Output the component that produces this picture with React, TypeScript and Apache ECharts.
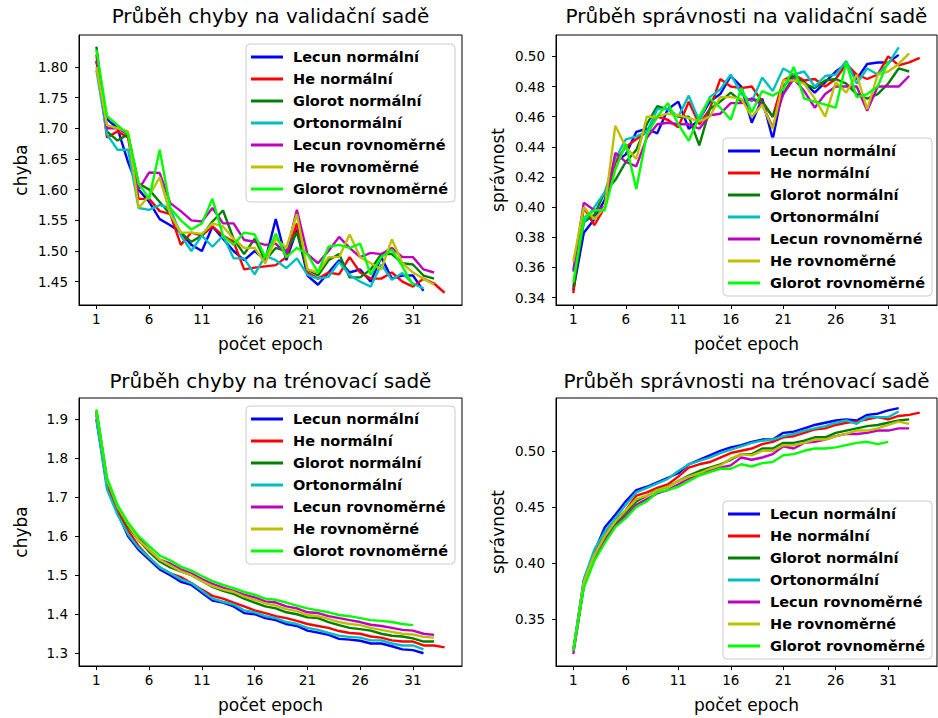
import React, { useEffect, useRef } from "react";
import * as echarts from "echarts";

// ---------- labels ----------
const SERIES_NAMES = [
  "Lecun normální",
  "He normální",
  "Glorot normální",
  "Ortonormální",
  "Lecun rovnoměrné",
  "He rovnoměrné",
  "Glorot rovnoměrné",
];
const EPOCH_TICKS = [1, 6, 11, 16, 21, 26, 31];
const VAL_LOSS_TICKS = [1.45, 1.5, 1.55, 1.6, 1.65, 1.7, 1.75, 1.8];
const VAL_ACC_TICKS = [0.34, 0.36, 0.38, 0.4, 0.42, 0.44, 0.46, 0.48, 0.5];
const TRAIN_LOSS_TICKS = [1.3, 1.4, 1.5, 1.6, 1.7, 1.8, 1.9];
const TRAIN_ACC_TICKS = [0.35, 0.4, 0.45, 0.5];

// ---------- validation loss ----------
const VAL_LOSS_LECUN_N = [1.81, 1.715, 1.7, 1.645, 1.6, 1.58, 1.552, 1.542, 1.53, 1.51, 1.5, 1.54, 1.52, 1.5, 1.485, 1.5, 1.485, 1.552, 1.485, 1.535, 1.46, 1.445, 1.465, 1.485, 1.465, 1.47, 1.45, 1.49, 1.455, 1.46, 1.46, 1.435];
const VAL_LOSS_HE_N = [1.82, 1.685, 1.695, 1.685, 1.585, 1.585, 1.565, 1.56, 1.51, 1.53, 1.525, 1.54, 1.525, 1.515, 1.47, 1.473, 1.475, 1.477, 1.49, 1.545, 1.465, 1.455, 1.465, 1.462, 1.49, 1.465, 1.455, 1.455, 1.465, 1.45, 1.442, 1.455, 1.447, 1.432];
const VAL_LOSS_GLOROT_N = [1.833, 1.695, 1.68, 1.69, 1.61, 1.6, 1.58, 1.56, 1.53, 1.515, 1.525, 1.548, 1.566, 1.52, 1.495, 1.52, 1.485, 1.505, 1.5, 1.53, 1.47, 1.46, 1.485, 1.495, 1.457, 1.457, 1.47, 1.495, 1.495, 1.48, 1.478, 1.46, 1.455];
const VAL_LOSS_ORTO = [1.795, 1.69, 1.665, 1.665, 1.57, 1.567, 1.575, 1.57, 1.525, 1.5, 1.525, 1.507, 1.525, 1.488, 1.488, 1.462, 1.492, 1.485, 1.472, 1.488, 1.461, 1.455, 1.458, 1.482, 1.461, 1.45, 1.442, 1.478, 1.453, 1.464, 1.447, 1.439];
const VAL_LOSS_LECUN_U = [1.81, 1.7, 1.7, 1.69, 1.6, 1.628, 1.627, 1.578, 1.565, 1.55, 1.548, 1.57, 1.545, 1.545, 1.518, 1.515, 1.51, 1.512, 1.495, 1.567, 1.495, 1.48, 1.5, 1.523, 1.505, 1.49, 1.497, 1.495, 1.505, 1.49, 1.49, 1.47, 1.465];
const VAL_LOSS_HE_U = [1.8, 1.705, 1.7, 1.695, 1.57, 1.59, 1.62, 1.56, 1.53, 1.53, 1.528, 1.545, 1.54, 1.52, 1.505, 1.505, 1.48, 1.52, 1.505, 1.56, 1.47, 1.465, 1.49, 1.49, 1.527, 1.49, 1.48, 1.47, 1.519, 1.48, 1.465, 1.455, 1.445];
const VAL_LOSS_GLOROT_U = [1.828, 1.72, 1.705, 1.69, 1.61, 1.585, 1.665, 1.57, 1.55, 1.535, 1.545, 1.585, 1.525, 1.51, 1.53, 1.527, 1.49, 1.528, 1.49, 1.505, 1.495, 1.465, 1.507, 1.51, 1.505, 1.512, 1.461, 1.49, 1.502, 1.475, 1.444];

// ---------- validation accuracy ----------
const VAL_ACC_LECUN_N = [0.345, 0.383, 0.392, 0.405, 0.43, 0.435, 0.45, 0.452, 0.449, 0.465, 0.47, 0.452, 0.458, 0.47, 0.475, 0.487, 0.48, 0.456, 0.472, 0.445, 0.48, 0.488, 0.483, 0.476, 0.483, 0.49, 0.495, 0.485, 0.495, 0.496, 0.496, 0.501];
const VAL_ACC_HE_N = [0.343, 0.4, 0.388, 0.4, 0.43, 0.44, 0.445, 0.45, 0.46, 0.458, 0.453, 0.47, 0.455, 0.465, 0.485, 0.48, 0.479, 0.48, 0.47, 0.46, 0.484, 0.488, 0.484, 0.485, 0.48, 0.485, 0.495, 0.488, 0.485, 0.488, 0.5, 0.494, 0.496, 0.499];
const VAL_ACC_GLOROT_N = [0.347, 0.39, 0.395, 0.41, 0.418, 0.43, 0.438, 0.455, 0.467, 0.465, 0.46, 0.46, 0.441, 0.465, 0.47, 0.476, 0.47, 0.472, 0.47, 0.46, 0.475, 0.487, 0.482, 0.479, 0.484, 0.485, 0.482, 0.475, 0.472, 0.475, 0.482, 0.492, 0.49];
const VAL_ACC_ORTO = [0.357, 0.39, 0.4, 0.41, 0.432, 0.445, 0.447, 0.45, 0.465, 0.465, 0.46, 0.474, 0.457, 0.473, 0.478, 0.488, 0.475, 0.47, 0.486, 0.477, 0.492, 0.488, 0.49, 0.48, 0.487, 0.488, 0.497, 0.482, 0.492, 0.488, 0.495, 0.506];
const VAL_ACC_LECUN_U = [0.358, 0.403, 0.398, 0.4, 0.436, 0.43, 0.427, 0.446, 0.455, 0.456, 0.455, 0.455, 0.452, 0.461, 0.462, 0.469, 0.469, 0.472, 0.468, 0.453, 0.475, 0.485, 0.477, 0.466, 0.475, 0.48, 0.48, 0.48, 0.464, 0.48, 0.48, 0.48, 0.487];
const VAL_ACC_HE_U = [0.364, 0.4, 0.392, 0.4, 0.454, 0.44, 0.432, 0.46, 0.46, 0.462, 0.461, 0.459, 0.457, 0.46, 0.473, 0.473, 0.472, 0.46, 0.468, 0.452, 0.484, 0.484, 0.482, 0.472, 0.46, 0.483, 0.476, 0.488, 0.465, 0.488, 0.49, 0.495, 0.502];
const VAL_ACC_GLOROT_U = [0.35, 0.393, 0.398, 0.398, 0.425, 0.442, 0.412, 0.448, 0.46, 0.469, 0.455, 0.444, 0.46, 0.472, 0.466, 0.458, 0.479, 0.463, 0.477, 0.474, 0.478, 0.493, 0.472, 0.47, 0.468, 0.466, 0.496, 0.473, 0.475, 0.48, 0.497];

// ---------- training loss ----------
const TRAIN_LOSS_LECUN_N = [1.9, 1.73, 1.66, 1.6, 1.565, 1.54, 1.515, 1.5, 1.483, 1.475, 1.455, 1.435, 1.43, 1.42, 1.403, 1.4, 1.39, 1.385, 1.375, 1.37, 1.358, 1.353, 1.347, 1.337, 1.335, 1.332, 1.325, 1.325, 1.318, 1.31, 1.308, 1.3];
const TRAIN_LOSS_HE_N = [1.91, 1.73, 1.665, 1.615, 1.575, 1.545, 1.52, 1.505, 1.495, 1.48, 1.463, 1.447, 1.44, 1.43, 1.42, 1.41, 1.403, 1.395, 1.39, 1.383, 1.375, 1.37, 1.365, 1.357, 1.352, 1.35, 1.343, 1.34, 1.333, 1.33, 1.33, 1.32, 1.32, 1.315];
const TRAIN_LOSS_GLOROT_N = [1.92, 1.745, 1.675, 1.625, 1.59, 1.56, 1.535, 1.52, 1.51, 1.5, 1.485, 1.47, 1.46, 1.452, 1.44, 1.43, 1.42, 1.415, 1.405, 1.4, 1.392, 1.39, 1.38, 1.372, 1.365, 1.362, 1.358, 1.35, 1.345, 1.343, 1.338, 1.33, 1.33];
const TRAIN_LOSS_ORTO = [1.9, 1.72, 1.655, 1.605, 1.57, 1.545, 1.52, 1.505, 1.49, 1.48, 1.46, 1.44, 1.432, 1.425, 1.41, 1.405, 1.395, 1.39, 1.38, 1.375, 1.365, 1.36, 1.352, 1.345, 1.342, 1.34, 1.333, 1.333, 1.325, 1.32, 1.32, 1.31];
const TRAIN_LOSS_LECUN_U = [1.92, 1.745, 1.675, 1.63, 1.595, 1.565, 1.54, 1.53, 1.515, 1.505, 1.49, 1.478, 1.468, 1.46, 1.45, 1.443, 1.433, 1.43, 1.42, 1.415, 1.405, 1.403, 1.395, 1.39, 1.385, 1.38, 1.373, 1.37, 1.365, 1.36, 1.358, 1.35, 1.347];
const TRAIN_LOSS_HE_U = [1.92, 1.745, 1.675, 1.63, 1.59, 1.565, 1.54, 1.525, 1.51, 1.5, 1.485, 1.472, 1.463, 1.457, 1.445, 1.437, 1.428, 1.422, 1.413, 1.408, 1.398, 1.395, 1.388, 1.38, 1.375, 1.372, 1.365, 1.36, 1.355, 1.35, 1.348, 1.342, 1.34];
const TRAIN_LOSS_GLOROT_U = [1.925, 1.75, 1.68, 1.635, 1.6, 1.575, 1.55, 1.538, 1.522, 1.512, 1.498, 1.485, 1.475, 1.467, 1.457, 1.45, 1.44, 1.437, 1.43, 1.422, 1.415, 1.41, 1.405, 1.398, 1.395, 1.39, 1.385, 1.383, 1.38, 1.375, 1.372];

// ---------- training accuracy ----------
const TRAIN_ACC_LECUN_N = [0.322, 0.385, 0.41, 0.432, 0.443, 0.455, 0.465, 0.468, 0.472, 0.476, 0.48, 0.488, 0.492, 0.496, 0.5, 0.503, 0.505, 0.508, 0.51, 0.51, 0.516, 0.517, 0.52, 0.523, 0.525, 0.527, 0.528, 0.527, 0.532, 0.533, 0.536, 0.538];
const TRAIN_ACC_HE_N = [0.322, 0.38, 0.408, 0.425, 0.438, 0.447, 0.46, 0.463, 0.467, 0.47, 0.477, 0.485, 0.488, 0.49, 0.494, 0.498, 0.5, 0.502, 0.506, 0.508, 0.512, 0.513, 0.516, 0.519, 0.52, 0.523, 0.525, 0.526, 0.528, 0.53, 0.528, 0.531, 0.532, 0.534];
const TRAIN_ACC_GLOROT_N = [0.322, 0.38, 0.405, 0.422, 0.435, 0.445, 0.455, 0.46, 0.465, 0.468, 0.473, 0.478, 0.482, 0.485, 0.488, 0.492, 0.497, 0.497, 0.502, 0.502, 0.507, 0.507, 0.509, 0.512, 0.512, 0.516, 0.518, 0.52, 0.522, 0.523, 0.525, 0.527, 0.528];
const TRAIN_ACC_ORTO = [0.322, 0.385, 0.412, 0.428, 0.44, 0.452, 0.463, 0.467, 0.471, 0.475, 0.482, 0.488, 0.491, 0.494, 0.498, 0.501, 0.504, 0.507, 0.509, 0.51, 0.513, 0.515, 0.518, 0.52, 0.522, 0.525, 0.527, 0.524, 0.53, 0.53, 0.53, 0.535];
const TRAIN_ACC_LECUN_U = [0.319, 0.38, 0.405, 0.42, 0.433, 0.442, 0.452, 0.457, 0.462, 0.465, 0.47, 0.475, 0.479, 0.482, 0.485, 0.487, 0.494, 0.492, 0.494, 0.497, 0.504, 0.502, 0.507, 0.508, 0.51, 0.513, 0.515, 0.515, 0.516, 0.518, 0.518, 0.52, 0.52];
const TRAIN_ACC_HE_U = [0.322, 0.383, 0.407, 0.424, 0.437, 0.447, 0.457, 0.46, 0.465, 0.468, 0.473, 0.477, 0.48, 0.484, 0.487, 0.493, 0.497, 0.496, 0.5, 0.5, 0.505, 0.505, 0.507, 0.51, 0.51, 0.513, 0.515, 0.518, 0.518, 0.52, 0.523, 0.526, 0.524];
const TRAIN_ACC_GLOROT_U = [0.322, 0.378, 0.402, 0.418, 0.432, 0.44, 0.45, 0.455, 0.463, 0.465, 0.468, 0.473, 0.478, 0.481, 0.484, 0.484, 0.488, 0.486, 0.489, 0.49, 0.496, 0.497, 0.5, 0.502, 0.502, 0.503, 0.505, 0.507, 0.508, 0.506, 0.508];

// ---------- styling ----------
const COLORS = ["#0000ff", "#ff0000", "#008000", "#00bfbf", "#bf00bf", "#bfbf00", "#00ff00"];
const FONT = "DejaVu Sans";

const PANELS = [
  {
    title: "Průběh chyby na validační sadě",
    yName: "chyba",
    yMin: 1.412,
    yMax: 1.852,
    yTicks: VAL_LOSS_TICKS,
    decimals: 2,
    series: [VAL_LOSS_LECUN_N, VAL_LOSS_HE_N, VAL_LOSS_GLOROT_N, VAL_LOSS_ORTO, VAL_LOSS_LECUN_U, VAL_LOSS_HE_U, VAL_LOSS_GLOROT_U],
    grid: { left: 79, top: 35, width: 383, height: 270 },
    legend: { left: 246, top: 44 },
    titleTop: 6,
  },
  {
    title: "Průběh správnosti na validační sadě",
    yName: "správnost",
    yMin: 0.3351,
    yMax: 0.5142,
    yTicks: VAL_ACC_TICKS,
    decimals: 2,
    series: [VAL_ACC_LECUN_N, VAL_ACC_HE_N, VAL_ACC_GLOROT_N, VAL_ACC_ORTO, VAL_ACC_LECUN_U, VAL_ACC_HE_U, VAL_ACC_GLOROT_U],
    grid: { left: 556, top: 35, width: 381, height: 270 },
    legend: { left: 723, top: 138 },
    titleTop: 6,
  },
  {
    title: "Průběh chyby na trénovací sadě",
    yName: "chyba",
    yMin: 1.2674,
    yMax: 1.954,
    yTicks: TRAIN_LOSS_TICKS,
    decimals: 1,
    series: [TRAIN_LOSS_LECUN_N, TRAIN_LOSS_HE_N, TRAIN_LOSS_GLOROT_N, TRAIN_LOSS_ORTO, TRAIN_LOSS_LECUN_U, TRAIN_LOSS_HE_U, TRAIN_LOSS_GLOROT_U],
    grid: { left: 79, top: 398, width: 383, height: 268 },
    legend: { left: 246, top: 406 },
    titleTop: 371,
  },
  {
    title: "Průběh správnosti na trénovací sadě",
    yName: "správnost",
    yMin: 0.3084,
    yMax: 0.547,
    yTicks: TRAIN_ACC_TICKS,
    decimals: 2,
    series: [TRAIN_ACC_LECUN_N, TRAIN_ACC_HE_N, TRAIN_ACC_GLOROT_N, TRAIN_ACC_ORTO, TRAIN_ACC_LECUN_U, TRAIN_ACC_HE_U, TRAIN_ACC_GLOROT_U],
    grid: { left: 556, top: 398, width: 381, height: 268 },
    legend: { left: 723, top: 501 },
    titleTop: 371,
  },
];

function buildOption() {
  const titles: any[] = [];
  const grids: any[] = [];
  const xAxes: any[] = [];
  const yAxes: any[] = [];
  const legends: any[] = [];
  const series: any[] = [];

  PANELS.forEach((p, pi) => {
    titles.push({
      text: p.title,
      left: p.grid.left + p.grid.width / 2,
      top: p.titleTop,
      textAlign: "center",
      padding: 0,
      textStyle: { fontFamily: FONT, fontSize: 20, fontWeight: "normal", color: "#000" },
    });
    grids.push({ ...p.grid, show: true, borderColor: "#000", borderWidth: 1, backgroundColor: "transparent", containLabel: false });
    xAxes.push({
      type: "value",
      gridIndex: pi,
      min: -0.65,
      max: 35.65,
      axisLine: { show: true, onZero: false, lineStyle: { color: "#000", width: 1 } },
      axisTick: { show: true, customValues: EPOCH_TICKS, length: 4, lineStyle: { color: "#000" } },
      axisLabel: { customValues: EPOCH_TICKS, fontFamily: FONT, fontSize: 13.5, color: "#000", margin: 7 },
      splitLine: { show: false },
      name: "počet epoch",
      nameLocation: "middle",
      nameGap: 30,
      nameTextStyle: { fontFamily: FONT, fontSize: 17, color: "#000" },
    });
    yAxes.push({
      type: "value",
      gridIndex: pi,
      min: p.yMin,
      max: p.yMax,
      axisLine: { show: true, onZero: false, lineStyle: { color: "#000", width: 1 } },
      axisTick: { show: true, customValues: p.yTicks, length: 4, lineStyle: { color: "#000" } },
      axisLabel: {
        customValues: p.yTicks,
        fontFamily: FONT,
        fontSize: 13.5,
        color: "#000",
        margin: 11,
        formatter: (v: number) => v.toFixed(p.decimals),
      },
      splitLine: { show: false },
      name: p.yName,
      nameLocation: "middle",
      nameGap: 50,
      nameRotate: 90,
      nameTextStyle: { fontFamily: FONT, fontSize: 17, color: "#000" },
    });
    legends.push({
      orient: "vertical",
      left: p.legend.left,
      top: p.legend.top,
      data: SERIES_NAMES,
      icon: "rect",
      itemWidth: 32,
      itemHeight: 3,
      itemGap: 6,
      selectedMode: false,
      padding: [5, 7, 5, 5],
      backgroundColor: "rgba(255,255,255,0.8)",
      borderColor: "#cccccc",
      borderWidth: 1,
      borderRadius: 4,
      textStyle: { fontFamily: FONT, fontSize: 14.5, fontWeight: "bold", color: "#000", lineHeight: 16, padding: [0, 0, 0, 5] },
    });
    p.series.forEach((arr, si) => {
      series.push({
        type: "line",
        name: SERIES_NAMES[si],
        xAxisIndex: pi,
        yAxisIndex: pi,
        data: arr.map((v, i) => [i + 1, v]),
        showSymbol: false,
        symbol: "none",
        lineStyle: { width: 2.4, color: COLORS[si] },
        itemStyle: { color: COLORS[si] },
        z: 2 + si * 0.01,
        silent: true,
      });
    });
  });

  return {
    animation: false,
    backgroundColor: "#fff",
    title: titles,
    grid: grids,
    xAxis: xAxes,
    yAxis: yAxes,
    legend: legends,
    series,
  };
}

export default function App() {
  const ref = useRef<HTMLDivElement>(null);
  useEffect(() => {
    if (!ref.current) return;
    const chart = echarts.init(ref.current, undefined, { renderer: "svg" });
    chart.setOption(buildOption() as any);
    return () => chart.dispose();
  }, []);
  return <div ref={ref} style={{ position: "fixed", left: 0, top: 0, width: 938, height: 718 }} />;
}
